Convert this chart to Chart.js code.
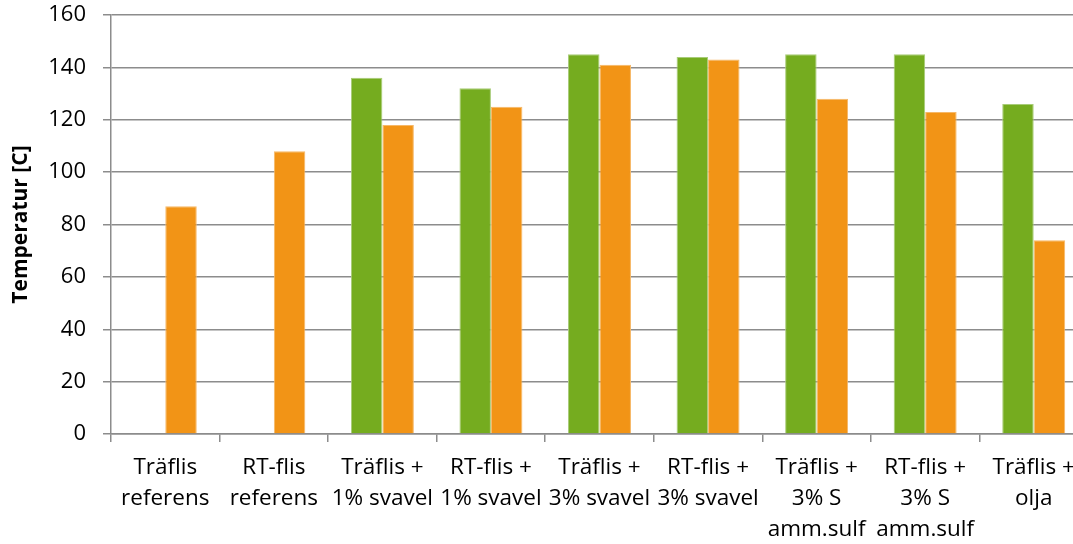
<!DOCTYPE html>
<html>
<head>
<meta charset="utf-8">
<script src="https://cdn.jsdelivr.net/npm/chart.js@4/dist/chart.umd.min.js"></script>
<style>
  html, body { margin: 0; padding: 0; background: #fff; overflow: hidden; }
  #wrap { position: absolute; left: 0; top: 0; width: 1088px; height: 544px; }
</style>
</head>
<body>
<div id="wrap"><canvas id="c" width="1088" height="544"></canvas></div>
<script>
// Categories (multi-line axis labels)
const categories = [
  ["Träflis", "referens"],
  ["RT-flis", "referens"],
  ["Träflis +", "1% svavel"],
  ["RT-flis +", "1% svavel"],
  ["Träflis +", "3% svavel"],
  ["RT-flis +", "3% svavel"],
  ["Träflis +", "3% S", "amm.sulf"],
  ["RT-flis +", "3% S", "amm.sulf"],
  ["Träflis +", "olja"]
];
// Temperature series
const greenValues = [null, null, 136, 132, 145, 144, 145, 145, 126];
const orangeValues = [87, 108, 118, 125, 141, 143, 128, 123, 74];
// Y axis range
const yMin = 0, yMax = 160, yStep = 20;
const yTitle = "Temperatur [C]";

const fontFamily = "'Open Sans', 'Noto Sans', sans-serif";

new Chart(document.getElementById('c'), {
  type: 'bar',
  data: {
    labels: categories,
    datasets: [
      { data: greenValues, backgroundColor: '#75AC1F', borderColor: '#A8CC78', borderWidth: 1,
        categoryPercentage: 0.58, barPercentage: 1.0 },
      { data: orangeValues, backgroundColor: '#F29416', borderColor: '#F6B868', borderWidth: 1,
        categoryPercentage: 0.58, barPercentage: 1.0 }
    ]
  },
  options: {
    responsive: false,
    animation: false,
    layout: { padding: { top: 15, left: 0, right: 0, bottom: 0 } },
    plugins: { legend: { display: false }, tooltip: { enabled: false } },
    scales: {
      x: {
        offset: true,
        grid: { display: true, drawOnChartArea: false, drawTicks: true, tickLength: 8,
                color: '#8c8c8c', lineWidth: 1.5, offset: true },
        border: { display: true, color: '#8c8c8c', width: 1.5 },
        ticks: { color: '#000', font: { family: fontFamily, size: 22.5, lineHeight: 1.38 }, padding: 10,
                 maxRotation: 0, autoSkip: false },
        afterFit: (s) => { s.height = 110; s.paddingLeft = 0; s.paddingRight = 0; }
      },
      y: {
        min: yMin, max: yMax,
        ticks: { stepSize: yStep, color: '#000', font: { family: fontFamily, size: 22 }, padding: 17 },
        grid: { color: '#8c8c8c', lineWidth: 1.5, tickLength: 8 },
        border: { display: true, color: '#8c8c8c', width: 1.5 },
        title: { display: true, text: yTitle, color: '#000',
                 font: { family: fontFamily, size: 21, weight: 'bold' }, padding: { top: 8, bottom: 0 } },
        afterFit: (s) => { s.width = 111; s.paddingTop = 0; s.paddingBottom = 0; }
      }
    }
  }
});
</script>
</body>
</html>
